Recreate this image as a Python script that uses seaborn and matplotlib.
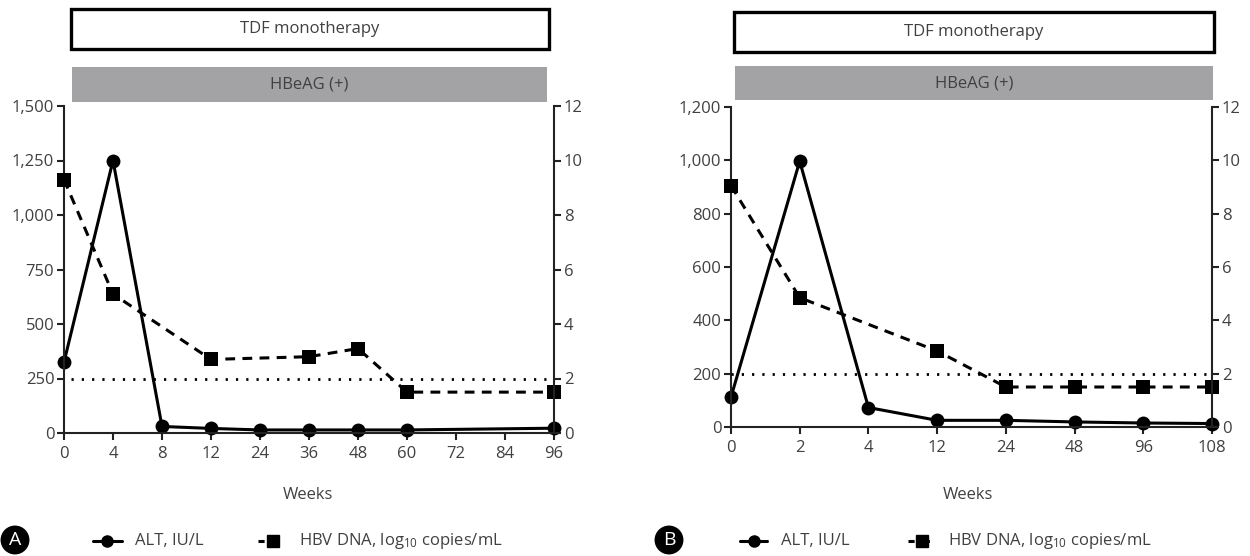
import matplotlib
matplotlib.use("Agg")
import matplotlib.pyplot as plt
import seaborn as sns
from matplotlib.patches import Rectangle
from matplotlib.lines import Line2D

# ---------------- data ----------------
weeks_A = ['0', '4', '8', '12', '24', '36', '48', '60', '72', '84', '96']
alt_A_weeks = ['0', '4', '8', '12', '24', '36', '48', '60', '96']
alt_A = [325, 1250, 30, 21, 14, 14, 14, 14, 22]
hbv_A_weeks = ['0', '4', '12', '36', '48', '60', '96']
hbv_A = [9.3, 5.1, 2.7, 2.8, 3.1, 1.5, 1.5]
left_ticks_A = [0, 250, 500, 750, 1000, 1250, 1500]
left_labels_A = ['0', '250', '500', '750', '1,000', '1,250', '1,500']

weeks_B = ['0', '2', '4', '12', '24', '48', '96', '108']
alt_B_weeks = ['0', '2', '4', '12', '24', '48', '96', '108']
alt_B = [112, 997, 73, 25, 25, 19, 15, 13]
hbv_B_weeks = ['0', '2', '12', '24', '48', '96', '108']
hbv_B = [9.05, 4.85, 2.85, 1.5, 1.5, 1.5, 1.5]
left_ticks_B = [0, 200, 400, 600, 800, 1000, 1200]
left_labels_B = ['0', '200', '400', '600', '800', '1,000', '1,200']

right_ticks = [0, 2, 4, 6, 8, 10, 12]
hbv_threshold = 2

box_text = 'TDF monotherapy'
bar_text = 'HBeAG (+)'
xlabel = 'Weeks'
legend_alt = 'ALT, IU/L'
legend_hbv = r'HBV DNA, log$_{10}$ copies/mL'

# ---------------- style ----------------
sns.set_style('ticks')
FONT = 'Open Sans'
plt.rcParams['font.family'] = [FONT, 'DejaVu Sans']
plt.rcParams['mathtext.fontset'] = 'custom'
plt.rcParams['mathtext.rm'] = FONT
plt.rcParams['mathtext.it'] = FONT
TXT = '#404040'
FS = 12

W, H = 1250, 556
fig = plt.figure(figsize=(W / 100, H / 100), dpi=100)


def fx(px):
    return px / W


def fy(py):
    return 1 - py / H


def panel(ax_rect, weeks, alt_w, alt_v, hbv_w, hbv_v, lticks, llabels,
          box_px, bar_px, letter, letter_px, leg_px, xlabel_px, dot_start):
    l, t, r, b = ax_rect
    ax = fig.add_axes([fx(l), fy(b), fx(r - l), (b - t) / H])
    ax2 = ax.twinx()

    xa = [weeks.index(w) for w in alt_w]
    xh = [weeks.index(w) for w in hbv_w]

    sns.lineplot(x=xa, y=alt_v, ax=ax, color='black', linewidth=2.2,
                 marker='o', markersize=10, markeredgecolor='black',
                 markeredgewidth=0, sort=False)
    sns.lineplot(x=xh, y=hbv_v, ax=ax2, color='black', linewidth=2.2,
                 linestyle=(0, (3.2, 2.4)), marker='s', markersize=10,
                 markeredgecolor='black', markeredgewidth=0, sort=False)
    ax2.axhline(hbv_threshold, xmin=dot_start, color='black', linewidth=2.0,
                linestyle=(0, (0.8, 2.9)), zorder=1)
    for a in (ax, ax2):
        for ln in a.get_lines():
            ln.set_clip_on(False)

    n = len(weeks) - 1
    ax.set_xlim(0, n)
    ax.set_ylim(lticks[0], lticks[-1])
    ax2.set_ylim(right_ticks[0], right_ticks[-1])
    ax.set_xticks(range(len(weeks)))
    ax.set_xticklabels(weeks)
    ax.set_yticks(lticks)
    ax.set_yticklabels(llabels)
    ax2.set_yticks(right_ticks)
    ax2.set_yticklabels([str(v) for v in right_ticks])

    for a in (ax, ax2):
        for s in a.spines.values():
            s.set_linewidth(1.5)
            s.set_color('#222222')
        a.spines['top'].set_visible(False)
        a.tick_params(width=1.5, length=5, color='#222222',
                      labelsize=FS, labelcolor=TXT, pad=2)
    ax.spines['right'].set_visible(False)
    ax2.spines['left'].set_visible(False)
    ax2.spines['bottom'].set_visible(False)
    ax.set_xlabel('')
    ax.set_ylabel('')
    ax2.set_ylabel('')
    ax.tick_params(axis='x', pad=4)

    # treatment box and status bar
    bl, bt, br, bb = box_px
    fig.add_artist(Rectangle((fx(bl), fy(bb)), fx(br - bl), (bb - bt) / H,
                             transform=fig.transFigure, fill=True,
                             facecolor='white', edgecolor='black',
                             linewidth=2.4))
    fig.text(fx((bl + br) / 2), fy((bt + bb) / 2), box_text, ha='center',
             va='center', fontsize=FS, color=TXT)
    gl, gt, gr, gb = bar_px
    fig.add_artist(Rectangle((fx(gl), fy(gb)), fx(gr - gl), (gb - gt) / H,
                             transform=fig.transFigure, facecolor='#a3a3a6',
                             edgecolor='none'))
    fig.text(fx((gl + gr) / 2), fy((gt + gb) / 2), bar_text, ha='center',
             va='center', fontsize=FS, color=TXT)

    # x label
    fig.text(fx(xlabel_px[0]), fy(xlabel_px[1]), xlabel, ha='center',
             va='center', fontsize=FS, color=TXT)

    # panel letter
    fig.text(fx(letter_px[0]), fy(letter_px[1]), letter, ha='center',
             va='center', fontsize=14, color='white',
             bbox=dict(boxstyle='circle,pad=0.28', facecolor='black',
                       edgecolor='none'))

    # legend
    a1, a2, at, hb1, hb2, ht, ly = leg_px
    fig.add_artist(Line2D([fx(a1), fx((a1 + a2) / 2), fx(a2)],
                          [fy(ly)] * 3, transform=fig.transFigure,
                          color='black', linewidth=2.2, marker='o',
                          markersize=8, markevery=[1]))
    fig.text(fx(at), fy(ly), legend_alt, ha='left', va='center',
             fontsize=FS, color=TXT)
    fig.add_artist(Line2D([fx(hb1), fx((hb1 + hb2) / 2), fx(hb2)],
                          [fy(ly)] * 3, transform=fig.transFigure,
                          color='black', linewidth=2.2,
                          linestyle=(0, (2.0, 3.0)), marker='s',
                          markersize=8, markevery=[1]))
    fig.text(fx(ht), fy(ly), legend_hbv, ha='left', va='center',
             fontsize=FS, color=TXT)


panel((64, 106, 554, 433), weeks_A, alt_A_weeks, alt_A, hbv_A_weeks, hbv_A,
      left_ticks_A, left_labels_A,
      box_px=(71, 9, 549, 49), bar_px=(72, 67, 547, 102),
      letter='A', letter_px=(15, 540),
      leg_px=(93, 122, 135, 258, 288, 299, 541), xlabel_px=(308, 495),
      dot_start=0.015)

panel((731, 107, 1212, 427), weeks_B, alt_B_weeks, alt_B, hbv_B_weeks, hbv_B,
      left_ticks_B, left_labels_B,
      box_px=(734, 12, 1214, 52), bar_px=(735, 66, 1213, 100),
      letter='B', letter_px=(669, 540),
      leg_px=(740, 767, 781, 908, 936, 948, 541), xlabel_px=(968, 495),
      dot_start=0.0)

fig.savefig('out.png', dpi=100)
